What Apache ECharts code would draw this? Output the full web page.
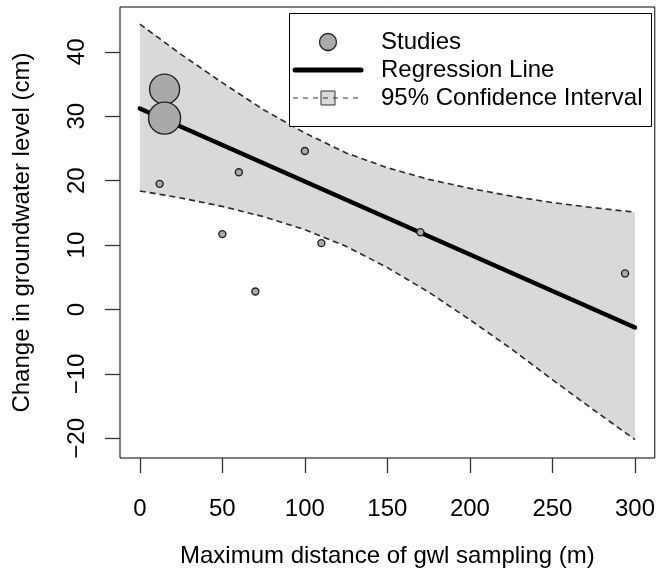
<!DOCTYPE html>
<html>
<head>
<meta charset="utf-8">
<script src="https://cdn.jsdelivr.net/npm/echarts@6/dist/echarts.min.js"></script>
<style>
html,body{margin:0;padding:0;background:#fff;}
#chart{width:658px;height:576px;}
</style>
</head>
<body>
<div id="chart"></div>
<script>
// ---- data ----
const xTicks = [0, 50, 100, 150, 200, 250, 300];
const yTicks = [-20, -10, 0, 10, 20, 30, 40];

const studyX = [12, 15, 15, 50, 60, 70, 100, 110, 170, 294];
const studyY = [19.5, 34.2, 29.7, 11.7, 21.3, 2.8, 24.6, 10.3, 12.0, 5.6];
const studyWeight = [0.048, 0.88, 1.0, 0.048, 0.048, 0.048, 0.048, 0.048, 0.048, 0.048];

const regX = [0, 300];
const regY = [31.2, -2.8];

const ciX = [0, 25, 50, 75, 100, 125, 150, 175, 200, 225, 250, 275, 300];
const ciUpper = [44.3, 39.6, 35.2, 31.0, 27.4, 24.3, 22.0, 20.2, 18.8, 17.6, 16.6, 15.8, 15.1];
const ciLower = [18.4, 17.3, 16.0, 14.4, 12.4, 9.8, 6.5, 2.7, -1.6, -6.1, -10.9, -15.6, -20.2];

const legendLabels = ['Studies', 'Regression Line', '95% Confidence Interval'];
const xTitle = 'Maximum distance of gwl sampling (m)';
const yTitle = 'Change in groundwater level (cm)';

// ---- chart ----
const FONT = '"Liberation Sans", Arial, sans-serif';
const FS = 24;
const chart = echarts.init(document.getElementById('chart'), null, {renderer: 'canvas'});

const zip = (a, b) => a.map((v, i) => [v, b[i]]);
const minusFmt = v => String(v).replace('-', '\u2212');

const option = {
  animation: false,
  backgroundColor: '#fff',
  grid: {
    left: 120, top: 7, width: 535, height: 451,
    show: true, borderColor: '#000', borderWidth: 1, backgroundColor: 'transparent'
  },
  xAxis: {
    type: 'value', min: -12, max: 312, position: 'bottom',
    splitLine: {show: false},
    axisLine: {show: false, onZero: false},
    axisTick: {show: true, customValues: xTicks, length: 15, inside: false,
      lineStyle: {color: '#333', width: 1.3}},
    axisLabel: {show: true, customValues: xTicks, margin: 39,
      color: '#000', fontFamily: FONT, fontSize: FS, formatter: minusFmt},
    name: xTitle, nameLocation: 'middle', nameGap: 86,
    nameTextStyle: {color: '#000', fontFamily: FONT, fontSize: FS}
  },
  yAxis: {
    type: 'value', min: -23.05, max: 46.95, position: 'left',
    splitLine: {show: false},
    axisLine: {show: false, onZero: false},
    axisTick: {show: true, customValues: yTicks, length: 15, inside: false,
      lineStyle: {color: '#333', width: 1.3}},
    axisLabel: {show: true, customValues: yTicks, margin: 31, rotate: 90,
      color: '#000', fontFamily: FONT, fontSize: FS, formatter: minusFmt},
    name: yTitle, nameLocation: 'middle', nameGap: 86, nameRotate: 90,
    nameTextStyle: {color: '#000', fontFamily: FONT, fontSize: FS}
  },
  series: [
    {
      type: 'custom',
      silent: true,
      data: [[0, 0]],
      renderItem: function (params, api) {
        const pts = [];
        for (let i = 0; i < ciX.length; i++) pts.push(api.coord([ciX[i], ciUpper[i]]));
        for (let i = ciX.length - 1; i >= 0; i--) pts.push(api.coord([ciX[i], ciLower[i]]));
        return {type: 'polygon', shape: {points: pts}, style: {fill: '#d9d9d9'}};
      },
      z: 1
    },
    {
      type: 'line', data: zip(ciX, ciUpper), showSymbol: false, symbol: 'none',
      lineStyle: {color: '#2a2a2a', width: 1.6, type: [6, 4]}, z: 2
    },
    {
      type: 'line', data: zip(ciX, ciLower), showSymbol: false, symbol: 'none',
      lineStyle: {color: '#2a2a2a', width: 1.6, type: [6, 4]}, z: 2
    },
    {
      type: 'line', data: zip(regX, regY), showSymbol: false, symbol: 'none',
      lineStyle: {color: '#000', width: 4.5, cap: 'round'}, z: 3
    },
    {
      type: 'scatter',
      data: studyX.map((x, i) => [x, studyY[i], studyWeight[i]]),
      symbol: 'circle',
      symbolSize: function (v) { return 32 * Math.sqrt(v[2]); },
      itemStyle: {color: '#a9a9a9', borderColor: '#222', borderWidth: 1.4, opacity: 1},
      z: 4
    }
  ],
  graphic: [
    {type: 'rect', shape: {x: 289.5, y: 13.5, width: 362, height: 113},
      style: {fill: '#fff', stroke: '#000', lineWidth: 1}, z: 10},
    {type: 'circle', shape: {cx: 328, cy: 42, r: 8.5},
      style: {fill: '#a9a9a9', stroke: '#222', lineWidth: 1.3}, z: 11},
    {type: 'line', shape: {x1: 295, y1: 70, x2: 361, y2: 70},
      style: {stroke: '#000', lineWidth: 5, lineCap: 'round'}, z: 11},
    {type: 'rect', shape: {x: 321, y: 91, width: 14, height: 14},
      style: {fill: '#d9d9d9', stroke: '#333', lineWidth: 1}, z: 11},
    {type: 'line', shape: {x1: 293, y1: 98, x2: 362, y2: 98},
      style: {stroke: '#333', lineWidth: 1.2, lineDash: [5, 5]}, z: 12},
    {type: 'text', x: 381, y: 42, style: {text: legendLabels[0], fill: '#000',
      font: FS + 'px ' + FONT, verticalAlign: 'middle', align: 'left'}, z: 11},
    {type: 'text', x: 381, y: 70, style: {text: legendLabels[1], fill: '#000',
      font: FS + 'px ' + FONT, verticalAlign: 'middle', align: 'left'}, z: 11},
    {type: 'text', x: 381, y: 98, style: {text: legendLabels[2], fill: '#000',
      font: FS + 'px ' + FONT, verticalAlign: 'middle', align: 'left'}, z: 11}
  ]
};
chart.setOption(option);
</script>
</body>
</html>
